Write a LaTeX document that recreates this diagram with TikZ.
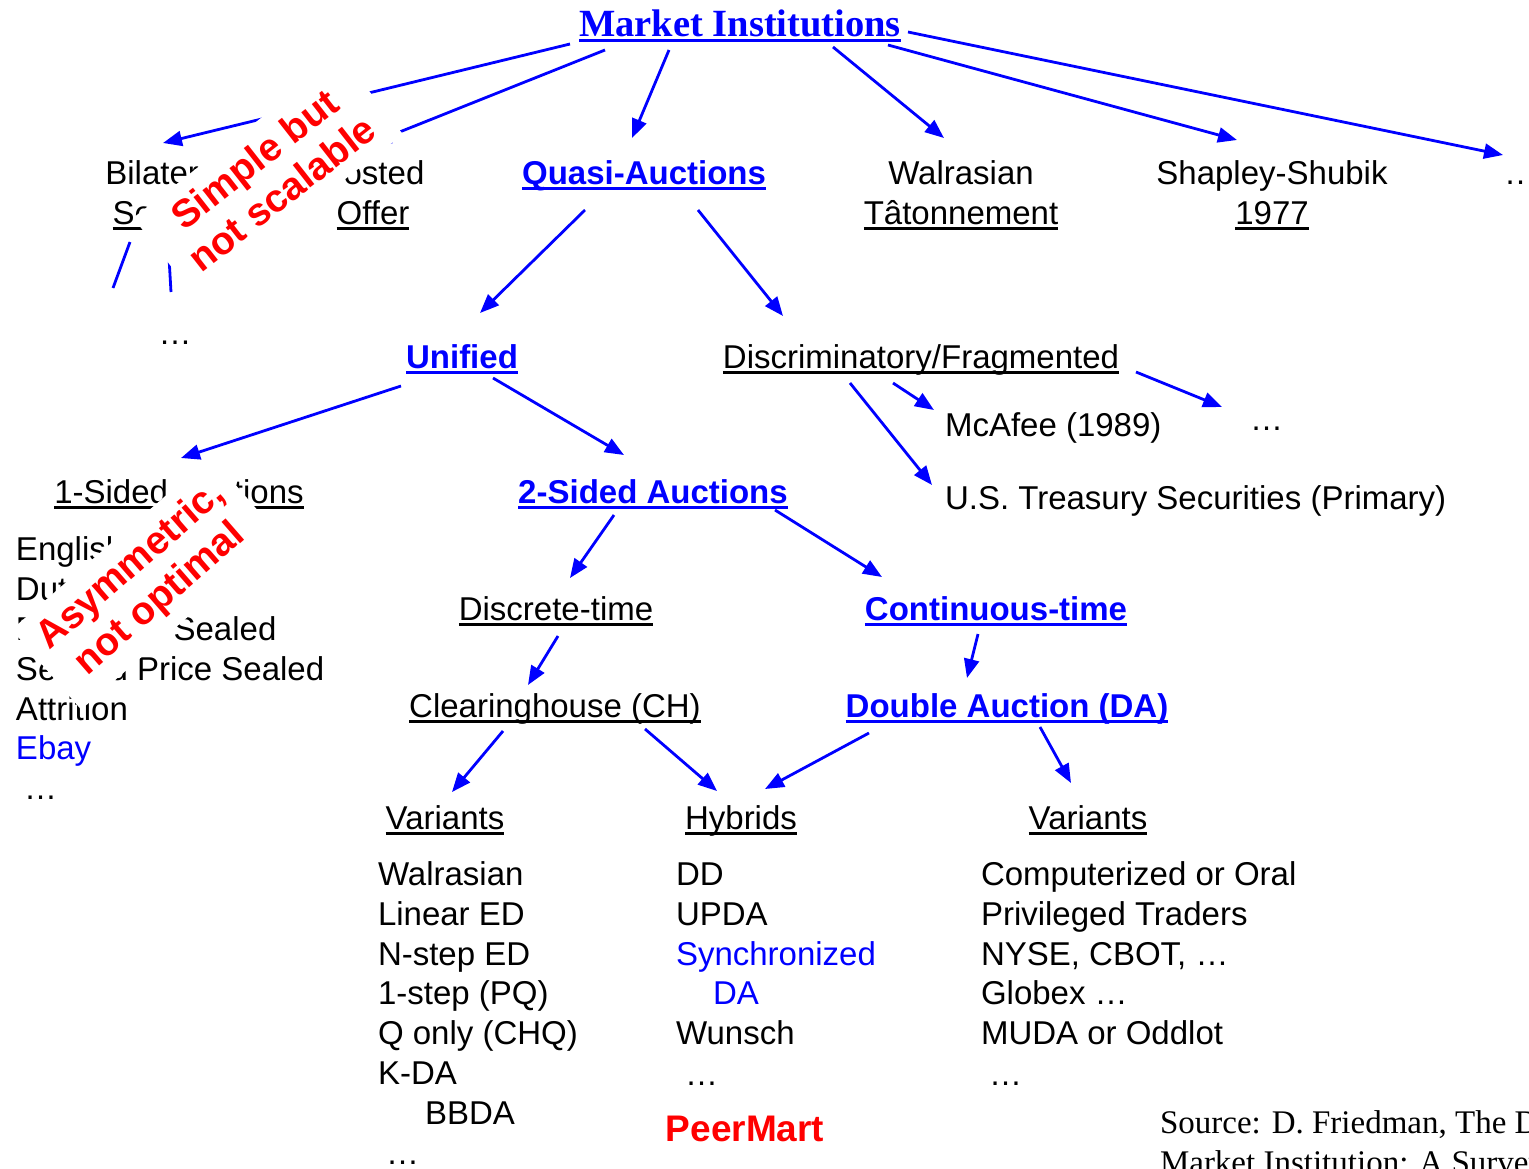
\documentclass[tikz,border=0pt]{standalone}
\usepackage{fontspec}
\setmainfont{Liberation Sans}
\newfontfamily\seriffont{Liberation Serif}
\usetikzlibrary{arrows.meta,calc}
\definecolor{lblue}{RGB}{0,0,255}
\definecolor{lred}{RGB}{255,0,0}
\newcommand\ulx[1]{\setbox0=\hbox{#1}\rlap{\rule[-6pt]{\wd0}{3pt}}\box0}
\tikzset{
  lbl/.style={inner sep=0pt, outer sep=0pt, anchor=base, font=\fontsize{33}{40}\selectfont},
  lblw/.style={lbl, anchor=base west},
  bbl/.style={text=lblue, font=\fontsize{33}{40}\selectfont\bfseries},
  arr/.style={draw=lblue, line width=2.8pt, -{Triangle[length=19pt,width=15pt]}},
  seg/.style={draw=lblue, line width=2.8pt},
  warn/.style={fill=white, text=lred, inner sep=0pt, outer sep=0pt, align=center,
    minimum width=264pt, minimum height=100pt, font=\fontsize{39}{44}\selectfont\bfseries},
}
\begin{document}
\begin{tikzpicture}[x=1pt,y=-1pt]
\useasboundingbox (0,0) rectangle (1529,1168);
\clip (0,0) rectangle (1529,1168);
\fill[white] (0,0) rectangle (1529,1168);

% top level
\node[lbl, text=lblue, font=\fontsize{38.5}{44}\seriffont\bfseries] (title) at (740,36) {\ulx{Market Institutions}};
\node[lbl] (bilat) at (165,184) {Bilateral};
\node[lbl] (search) at (165,224) {\ulx{Search}};
\node[lbl] (posted) at (373,184) {Posted};
\node[lbl] (offer) at (373,224) {\ulx{Offer}};
\node[lbl, bbl] (quasi) at (644,184) {\ulx{Quasi-Auctions}};
\node[lbl] (walras) at (961,184) {Walrasian};
\node[lbl] (taton) at (961,224) {\ulx{Tâtonnement}};
\node[lbl] (shap) at (1272,184) {Shapley-Shubik};
\node[lbl] (y1977) at (1272,224) {\ulx{1977}};
\node[lblw] (dtop) at (1504,184) {…};
\node[lbl] (dbil) at (175,344) {…};

% second level
\node[lbl, bbl] (unified) at (462,368) {\ulx{Unified}};
\node[lbl] (discr) at (921,368) {\ulx{Discriminatory/Fragmented}};
\node[lblw] (mcafee) at (945,436) {McAfee (1989)};
\node[lblw] (ddis) at (1250,430) {…};
\node[lblw] (ust) at (945,509) {U.S. Treasury Securities (Primary)};

% third level
\node[lbl] (one) at (179,503) {\ulx{1-Sided Auctions}};
\node[lbl, bbl] (two) at (653,503) {\ulx{2-Sided Auctions}};
\node[lblw] (eng) at (16,560) {English};
\node[lblw] (dut) at (16,600) {Dutch};
\node[lblw] (fps) at (16,640) {First Price Sealed};
\node[lblw] (sps) at (16,680) {Second Price Sealed};
\node[lblw] (att) at (16,720) {Attrition};
\node[lblw, text=lblue] (ebay) at (16,759) {Ebay};
\node[lblw] (done) at (24,799) {…};

\node[lbl] (discrete) at (556,620) {\ulx{Discrete-time}};
\node[lbl, bbl] (cont) at (996,620) {\ulx{Continuous-time}};
\node[lbl] (ch) at (555,717) {\ulx{Clearinghouse (CH)}};
\node[lbl, bbl] (da) at (1007,717) {\ulx{Double Auction (DA)}};

\node[lbl] (varl) at (445,829) {\ulx{Variants}};
\node[lbl] (hyb) at (741,829) {\ulx{Hybrids}};
\node[lbl] (varr) at (1088,829) {\ulx{Variants}};

% left list
\node[lblw] (l1) at (378,885) {Walrasian};
\node[lblw] (l2) at (378,925) {Linear ED};
\node[lblw] (l3) at (378,965) {N-step ED};
\node[lblw] (l4) at (378,1004) {1-step (PQ)};
\node[lblw] (l5) at (378,1044) {Q only (CHQ)};
\node[lblw] (l6) at (378,1084) {K-DA};
\node[lblw] (l7) at (425,1124) {BBDA};
\node[lblw] (l8) at (386,1164) {…};

% hybrids list
\node[lblw] (h1) at (676,885) {DD};
\node[lblw] (h2) at (676,925) {UPDA};
\node[lblw, text=lblue] (h3) at (676,965) {Synchronized};
\node[lblw, text=lblue] (h4) at (713,1004) {DA};
\node[lblw] (h5) at (676,1044) {Wunsch};
\node[lblw] (h6) at (685,1085) {…};
\node[lbl, text=lred, font=\fontsize{37}{42}\selectfont\bfseries] (peer) at (745,1141) {PeerMart};

% right list
\node[lblw] (r1) at (981,885) {Computerized or Oral};
\node[lblw] (r2) at (981,925) {Privileged Traders};
\node[lblw] (r3) at (981,965) {NYSE, CBOT, …};
\node[lblw] (r4) at (981,1004) {Globex …};
\node[lblw] (r5) at (981,1044) {MUDA or Oddlot};
\node[lblw] (r6) at (989,1085) {…};

% source
\node[lblw, font=\fontsize{33}{38}\seriffont] (src1) at (1160,1133) {Source: D. Friedman, The Double Auction};
\node[lblw, font=\fontsize{33}{38}\seriffont] (src2) at (1160,1173) {Market Institution: A Survey};

% connectors
\draw[arr] ($(title.base)+(-170,8)$) -- ($(bilat.base)+(-2,-41)$);
\draw[arr] ($(title.base)+(-135,14)$) -- ($(posted.base)+(-1,-41)$);
\draw[arr] ($(title.base)+(-71,14)$) -- ($(quasi.base)+(-12,-46)$);
\draw[arr] ($(title.base)+(93,11)$) -- ($(walras.base)+(-17,-46)$);
\draw[arr] ($(title.base)+(148,9)$) -- ($(shap.base)+(-35,-44)$);
\draw[arr] ($(title.base)+(168,-4)$) -- ($(dtop.base west)+(-1,-29)$);
\coordinate (la) at (113,288);
\coordinate (lb) at (171,292);
\draw[seg] ($(search.base)+(-35,18)$) -- (la);
\draw[seg] ($(search.base)+(3,16)$) -- (lb);
\draw[arr] ($(quasi.base)+(-59,26)$) -- ($(unified.base)+(18,-55)$);
\draw[arr] ($(quasi.base)+(54,26)$) -- ($(discr.base)+(-138,-52)$);
\draw[arr] ($(unified.base)+(-61,18)$) -- ($(one.base)+(2,-45)$);
\draw[arr] ($(unified.base)+(31,10)$) -- ($(two.base)+(-29,-48)$);
\draw[arr] ($(discr.base)+(-28,15)$) -- ($(mcafee.base west)+(-11,-26)$);
\draw[arr] ($(discr.base)+(-71,15)$) -- ($(ust.base west)+(-13,-24)$);
\draw[arr] ($(discr.base)+(215,4)$) -- ($(ddis.base west)+(-28,-23)$);
\draw[arr] ($(two.base)+(-39,12)$) -- ($(discrete.base)+(14,-42)$);
\draw[arr] ($(two.base)+(122,7)$) -- ($(cont.base)+(-114,-43)$);
\draw[arr] ($(discrete.base)+(2,16)$) -- ($(ch.base)+(-27,-32)$);
\draw[arr] ($(cont.base)+(-18,14)$) -- ($(da.base)+(-40,-39)$);
\draw[arr] ($(ch.base)+(-52,14)$) -- ($(varl.base)+(7,-37)$);
\draw[arr] ($(ch.base)+(90,12)$) -- ($(hyb.base)+(-24,-38)$);
\draw[arr] ($(da.base)+(-138,16)$) -- ($(hyb.base)+(24,-40)$);
\draw[arr] ($(da.base)+(33,10)$) -- ($(varr.base)+(-17,-46)$);

% red overlays
\node[warn, rotate=38] (simple) at (268,176) {Simple but\\not scalable};
\node[warn, rotate=41, minimum height=106pt] (asym) at (146,583) {Asymmetric,\\not optimal};
\end{tikzpicture}
\end{document}
